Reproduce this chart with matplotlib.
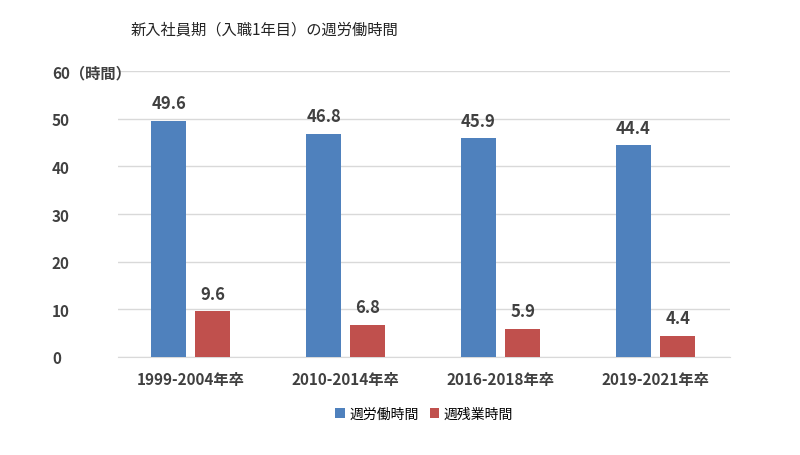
import numpy as np
import matplotlib.pyplot as plt

plt.rcParams['font.family'] = 'Noto Sans CJK JP'

categories = ['1999-2004年卒', '2010-2014年卒', '2016-2018年卒', '2019-2021年卒']
work_hours = [49.6, 46.8, 45.9, 44.4]
overtime_hours = [9.6, 6.8, 5.9, 4.4]

fig = plt.figure(figsize=(8, 4.56), dpi=100)
ax = fig.add_axes([0.1475, 0.215, 0.765, 0.627])

x = np.arange(len(categories))
w = 0.226
b1 = ax.bar(x - 0.5 * w - 0.03, work_hours, w, color='#4F81BD', label='週労働時間', zorder=3)
b2 = ax.bar(x + 0.5 * w + 0.03, overtime_hours, w, color='#C0504D', label='週残業時間', zorder=3)

for bars in (b1, b2):
    for r in bars:
        ax.text(r.get_x() + r.get_width() / 2, r.get_height() + 1.8, '%.1f' % r.get_height(),
                ha='center', va='bottom', fontsize=12, fontweight='bold', color='#404040')

ax.set_ylim(0, 60)
ax.set_xlim(-0.47, 3.48)
ax.set_yticks(range(0, 61, 10))
ax.set_yticklabels(['0', '10', '20', '30', '40', '50', '60（時間）'])
ax.set_xticks(x)
ax.set_xticklabels(categories)
for lab in ax.get_yticklabels():
    lab.set_horizontalalignment('left')
    lab.set_x(-0.1)
ax.tick_params(axis='both', length=0, labelsize=11, labelcolor='#404040')
for lab in ax.get_xticklabels() + ax.get_yticklabels():
    lab.set_fontweight('bold')
ax.tick_params(axis='x', pad=10)
ax.grid(axis='y', color='#D9D9D9', linewidth=1, zorder=0)
for s in ['top', 'right', 'left']:
    ax.spines[s].set_visible(False)
ax.spines['bottom'].set_color('#D9D9D9')

fig.text(0.163, 0.925, '新入社員期（入職1年目）の週労働時間', fontsize=11, color='#222222')
ax.legend(loc='upper center', bbox_to_anchor=(0.5, -0.13), ncol=2, frameon=False,
          fontsize=10, handlelength=0.7, handleheight=0.7, columnspacing=0.8, handletextpad=0.3)

fig.savefig('out.png')
